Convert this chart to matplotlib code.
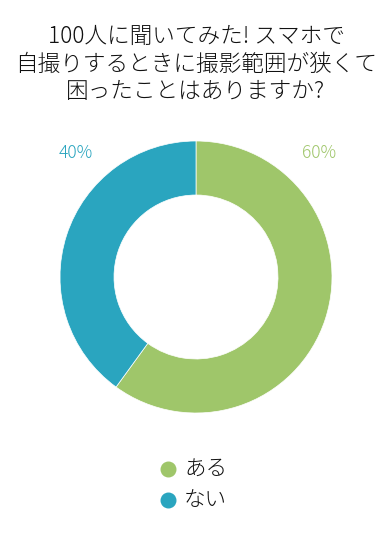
import matplotlib.pyplot as plt

plt.rcParams['font.family'] = ['Noto Sans CJK JP', 'DejaVu Sans']

# data
title_lines = ["100人に聞いてみた! スマホで", "自撮りするときに撮影範囲が狭くて", "困ったことはありますか?"]
labels = ["ある", "ない"]
values = [60, 40]
colors = ["#9FC66A", "#2AA5BF"]

W, H = 391, 541
fig = plt.figure(figsize=(W / 100, H / 100), dpi=100)
ax = fig.add_axes([0, 0, 1, 1])

cx, cy, r = 196, H - 277, 136
wedges, _ = ax.pie(values, colors=colors, startangle=90, counterclock=False,
                   center=(cx, cy), radius=r, frame=True,
                   wedgeprops=dict(width=r - 82, edgecolor='white', linewidth=0.5))
ax.set_xlim(0, W)
ax.set_ylim(0, H)
ax.set_aspect('equal')
ax.axis('off')

# title
for i, line in enumerate(title_lines):
    ax.text(cx, H - 36 - i * 28, line, ha='center', va='center',
            fontsize=16.3, color='#111111', fontweight='light')

# percent labels
ax.text(319, H - 153, f"{values[0]}%", ha='center', va='center', fontsize=12.5,
        color=colors[0], fontweight='light')
ax.text(76, H - 153, f"{values[1]}%", ha='center', va='center', fontsize=12.5,
        color=colors[1], fontweight='light')

# legend
for i, (lab, col) in enumerate(zip(labels, colors)):
    y = H - 469 - i * 31
    ax.scatter([168], [y], s=110, color=col, zorder=3)
    ax.text(184, y, lab, ha='left', va='center', fontsize=15.5, color='#111111',
            fontweight='light')

fig.savefig("out.png", dpi=100)
